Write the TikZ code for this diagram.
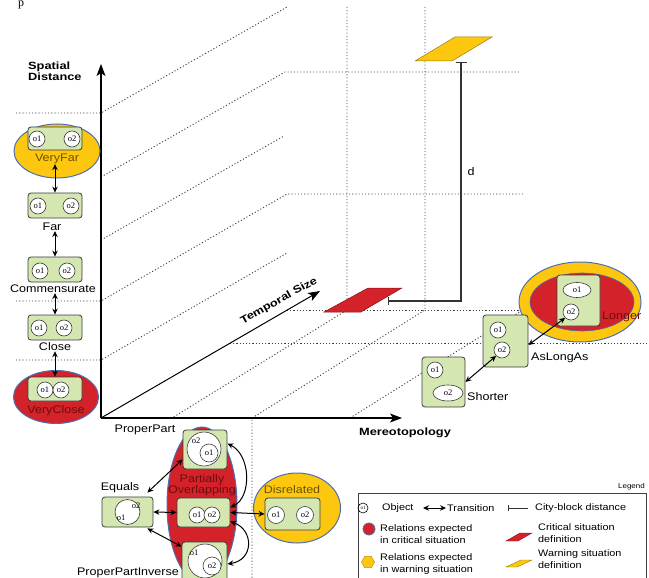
\documentclass[tikz,border=0pt]{standalone}
\usepackage{graphicx}
\usepackage{fontspec}
\setmainfont{Liberation Sans}[FakeStretch=1.14]
\newfontfamily\widebold{Liberation Sans}[FakeStretch=1.22]
\newfontfamily\objfont{Liberation Serif}
\usetikzlibrary{arrows.meta,shapes.geometric}

\definecolor{boxgreen}{HTML}{D4E7B1}
\definecolor{boxedge}{HTML}{3C3C3C}
\definecolor{warnyellow}{HTML}{FDC70F}
\definecolor{critred}{HTML}{D3222A}
\definecolor{rimblue}{HTML}{4C6FB3}
\definecolor{warntext}{HTML}{6B5200}
\definecolor{crittext}{HTML}{6E0C0C}
\definecolor{gridgray}{HTML}{404040}

\begin{document}
\begin{tikzpicture}[x=1pt,y=-1pt,
  grid/.style={draw=gridgray, line width=0.9pt, dash pattern=on 1.1pt off 2.1pt},
  axis/.style={draw=black, line width=1.1pt, -{Stealth[length=12pt,width=9pt,inset=3pt]}},
  obox/.style={draw=boxedge, fill=boxgreen, line width=0.8pt, rounded corners=3pt, inner sep=0pt},
  obj/.style={circle, draw=boxedge, fill=white, line width=0.6pt, inner sep=0pt, minimum size=16pt,
              font=\objfont\fontsize{8.5}{8.5}\selectfont},
  objE/.style={ellipse, draw=boxedge, fill=white, line width=0.6pt, inner sep=0pt,
              font=\objfont\fontsize{8.5}{8.5}\selectfont},
  objtext/.style={inner sep=0pt, font=\objfont\fontsize{8.5}{8.5}\selectfont},
  lbl/.style={inner sep=0pt, font=\fontsize{11}{10}\selectfont},
  boldlbl/.style={inner sep=0pt, font=\widebold\bfseries\fontsize{10.5}{9}\selectfont},
  legtxt/.style={inner sep=0pt, align=left, font=\fontsize{9.5}{12}\selectfont},
  trans/.style={draw=black, line width=1pt, {Stealth[length=6pt,width=5.5pt]}-{Stealth[length=6pt,width=5.5pt]}},
  warn/.style={ellipse, fill=warnyellow, draw=rimblue, line width=1pt, inner sep=0pt},
  crit/.style={ellipse, fill=critred, draw=rimblue, line width=1pt, inner sep=0pt},
  cityblock/.style={draw=black!80, line width=1.1pt},
]
\useasboundingbox (0,0) rectangle (649,578);

% ---------- dotted perspective grid ----------
\draw[grid] (16,113) -- (101,113) -- (287,7);
\draw[grid] (101,177) -- (285,72) -- (520,72);
\draw[grid] (101,240) -- (284,136);
\draw[grid] (16,301) -- (101,301) -- (287,194) -- (525,194);
\draw[grid] (16,360) -- (101,360) -- (287,253);
\draw[grid] (287,310) -- (523,310);
\draw[grid] (230,343) -- (649,343);
\draw[grid] (347,7) -- (347,310) -- (172,418);
\draw[grid] (425,7) -- (425,310) -- (252,418) -- (252,578);
\draw[grid] (350,418) -- (523,310);

% ---------- axes ----------
\coordinate (O) at (101,418);
\coordinate (Ytip) at (101,64);
\coordinate (Xtip) at (402,418);
\coordinate (Ttip) at (320,291);
\draw[axis] (O) -- (Ytip);
\draw[axis] (O) -- (Xtip);
\draw[axis, line width=1pt] (O) -- (Ttip);

\node[boldlbl, anchor=north west, align=left] (ylab) at (28,62) {Spatial\\Distance};
\node[boldlbl] (xlab) at (405,433) {Mereotopology};
\node[boldlbl, rotate=29] (tlab) at (279,301) {Temporal Size};
\node[lbl] (ppLbl) at (145,430) {ProperPart};
\node[objtext, font=\objfont\fontsize{12}{12}\selectfont, anchor=base] (pTop) at (21,7) {p};

% ---------- situation definitions and city-block distance ----------
\filldraw[fill=critred, draw=critred!65!black, line width=0.5pt]
  (324,312) -- (361,312) -- (402,288) -- (368,288) -- cycle;
\filldraw[fill=warnyellow, draw=warnyellow!60!black, line width=0.5pt]
  (415,61) -- (452,61) -- (492,37) -- (455,37) -- cycle;
\coordinate (cbStart) at (388,301);
\coordinate (cbEnd) at (461,62);
\draw[cityblock, {Bar[width=8pt]}-{Bar[width=11pt]}] (cbStart) -- (cbStart -| cbEnd) -- (cbEnd);
\node[lbl] (dLbl) at (471,172) {d};

% ---------- spatial distance relations ----------
\node[warn, minimum width=86pt, minimum height=54pt] (vfE) at (57,151) {};
\node[obox, minimum width=54pt, minimum height=23pt] (vfBox) at (55,138.5) {};
\node[obj] (vf1) at (37,139) {o1};
\node[obj] (vf2) at (72,139) {o2};
\node[lbl, text=warntext] (vfLbl) at (57,159) {VeryFar};

\node[obox, minimum width=54pt, minimum height=25pt] (farBox) at (55,205.5) {};
\node[obj] (far1) at (38,206) {o1};
\node[obj] (far2) at (71,206) {o2};
\node[lbl] (farLbl) at (52,227) {Far};

\node[obox, minimum width=54pt, minimum height=25pt] (cmBox) at (55,269.5) {};
\node[obj] (cm1) at (40,271) {o1};
\node[obj] (cm2) at (67,271) {o2};
\node[lbl] (cmLbl) at (53,289) {Commensurate};

\node[obox, minimum width=54pt, minimum height=25pt] (clBox) at (55,327.5) {};
\node[obj] (cl1) at (39,328) {o1};
\node[obj] (cl2) at (64,328) {o2};
\node[lbl] (clLbl) at (55,347) {Close};

\node[crit, minimum width=85pt, minimum height=53pt] (vcE) at (56,397) {};
\node[obox, minimum width=54pt, minimum height=24pt] (vcBox) at (55,389) {};
\node[obj] (vc1) at (45,390) {o1};
\node[obj] (vc2) at (61,390) {o2};
\node[lbl, text=crittext] (vcLbl) at (56,411) {VeryClose};

\draw[trans] (vfLbl.south -| farBox.north) -- (farBox.north);
\draw[trans] (farLbl.south -| cmBox.north) -- (cmBox.north);
\draw[trans] (cmLbl.south -| clBox.north) -- (clBox.north);
\draw[trans] (clLbl.south -| vcBox.north) -- (vcBox.north);

% ---------- temporal size relations ----------
\node[warn, minimum width=122pt, minimum height=80pt] (lgOuter) at (580,302) {};
\node[crit, minimum width=104pt, minimum height=58pt, line width=0.6pt] (lgE) at (582,302) {};
\node[obox, minimum width=43pt, minimum height=51pt] (lgBox) at (578.5,300.5) {};
\node[objE, minimum width=28pt, minimum height=15pt] (lg1) at (577,290) {o1};
\node[obj] (lg2) at (571,312) {o2};
\node[lbl, text=crittext, anchor=west] (lgLbl) at (602,317) {Longer};

\node[obox, minimum width=45pt, minimum height=52pt] (alBox) at (505.5,341) {};
\node[obj] (al1) at (498,330) {o1};
\node[obj] (al2) at (502,350) {o2};
\node[lbl, anchor=west] (alLbl) at (531,358) {AsLongAs};

\node[obox, minimum width=43pt, minimum height=50pt] (shBox) at (443.5,382) {};
\node[obj] (sh1) at (435,370) {o1};
\node[objE, minimum width=30pt, minimum height=16pt] (sh2) at (448,393) {o2};
\node[lbl, anchor=west] (shLbl) at (467,397) {Shorter};

\draw[trans] (lg2.south west) -- ([yshift=-4pt]alBox.east);
\draw[trans] (al2.south west) -- (shBox.east);

% ---------- mereotopological relations ----------
\node[crit, minimum width=70pt, minimum height=156pt] (poE) at (202,505) {};
\node[obox, minimum width=44pt, minimum height=39pt] (ppBox) at (205,449.5) {};
\node[obj, minimum size=34pt] (ppOut) at (204,449) {};
\node[obj, minimum size=18pt] (ppIn) at (209,453) {o1};
\node[objtext] (ppOutLbl) at (196,441) {o2};

\node[lbl, text=crittext, align=center] (poLbl) at (202,485) {Partially\\Overlapping};
\node[obox, minimum width=53pt, minimum height=29pt] (poBox) at (203.5,512.5) {};
\node[obj] (po1) at (197,515) {o1};
\node[obj] (po2) at (212,515) {o2};

\node[obox, minimum width=45pt, minimum height=44pt] (ppiBox) at (204.5,564) {};
\node[obj, minimum size=34pt] (ppiOut) at (205,561) {};
\node[obj, minimum size=18pt] (ppiIn) at (212,566) {o2};
\node[objtext] (ppiOutLbl) at (194,553) {o1};
\node[lbl] (ppiLbl) at (128,573) {ProperPartInverse};

\node[obox, minimum width=51pt, minimum height=30pt] (eqBox) at (127.5,512) {};
\node[obj, minimum size=25pt] (eqC) at (127.5,512) {};
\node[objtext] (eq1) at (121,518) {o1};
\node[objtext] (eq2) at (136,506) {o2};
\node[lbl] (eqLbl) at (120,488) {Equals};

\node[warn, minimum width=87pt, minimum height=70pt] (disE) at (297,508) {};
\node[obox, minimum width=55pt, minimum height=32pt] (disBox) at (292.5,514) {};
\node[obj, minimum size=17pt] (dis1) at (276,515) {o1};
\node[obj, minimum size=17pt] (dis2) at (305,515) {o2};
\node[lbl, text=warntext] (disLbl) at (292,490) {Disrelated};

\draw[trans] (eqBox.east) -- (poBox.west);
\draw[trans] ([xshift=-6pt,yshift=4pt]eqBox.north east) -- ([yshift=10pt]ppBox.south west);
\draw[trans] ([xshift=-6pt,yshift=-1pt]eqBox.south east) -- ([yshift=-5pt]ppiBox.north west);
\draw[trans] (poBox.east) -- (disBox.west);
\draw[trans] ([yshift=6pt]ppBox.east) .. controls (251,455) and (252,497) .. ([yshift=5pt]poBox.east);
\draw[trans] ([yshift=-9pt]poBox.east) .. controls (254,530) and (254,560) .. (ppiBox.east);

% ---------- legend ----------
\node[inner sep=0pt, anchor=east, font=\fontsize{7}{7}\selectfont] (legTitle) at (645,487) {Legend};
\node[draw=black!75, line width=0.8pt, anchor=north west, minimum width=288pt, minimum height=97pt, inner sep=0pt] (legBox) at (358,493) {};

\node[circle, draw=black, line width=0.6pt, minimum size=10pt, inner sep=0pt,
      font=\objfont\fontsize{5}{5}\selectfont] (legObj) at (363,508) {o1};
\node[legtxt, anchor=west] (legObjTxt) at (382,508) {Object};
\coordinate (legTrA) at (423,508);
\coordinate (legTrB) at (446,508);
\draw[trans] (legTrA) -- (legTrB);
\node[legtxt, anchor=west] (legTrTxt) at (447,508) {Transition};
\coordinate (legCbA) at (508,508);
\coordinate (legCbB) at (528,508);
\draw[cityblock, line width=0.9pt, {Bar[width=6pt]}-] (legCbA) -- (legCbB);
\node[legtxt, anchor=west] (legCbTxt) at (535,508) {City-block distance};

\node[circle, fill=critred, draw=rimblue, line width=0.8pt, minimum size=12pt, inner sep=0pt] (legCrit) at (369,529) {};
\node[legtxt, anchor=west] (legCritTxt) at (380,534) {Relations expected\\in critical situation};
\filldraw[fill=critred, draw=critred!65!black, line width=0.4pt]
  (506,541) -- (518,541) -- (532,533) -- (520,533) -- cycle;
\node[legtxt, anchor=west] (legCdefTxt) at (538,533) {Critical situation\\definition};

\node[regular polygon, regular polygon sides=6, fill=warnyellow, draw=warnyellow!75!black,
      line width=0.5pt, minimum size=13pt, inner sep=0pt] (legWarn) at (368,562) {};
\node[legtxt, anchor=west] (legWarnTxt) at (380,564) {Relations expected\\in warning situation};
\filldraw[fill=warnyellow, draw=warnyellow!60!black, line width=0.4pt]
  (506,567) -- (517,567) -- (532,560) -- (521,560) -- cycle;
\node[legtxt, anchor=west] (legWdefTxt) at (538,559) {Warning situation\\definition};
\end{tikzpicture}
\end{document}
